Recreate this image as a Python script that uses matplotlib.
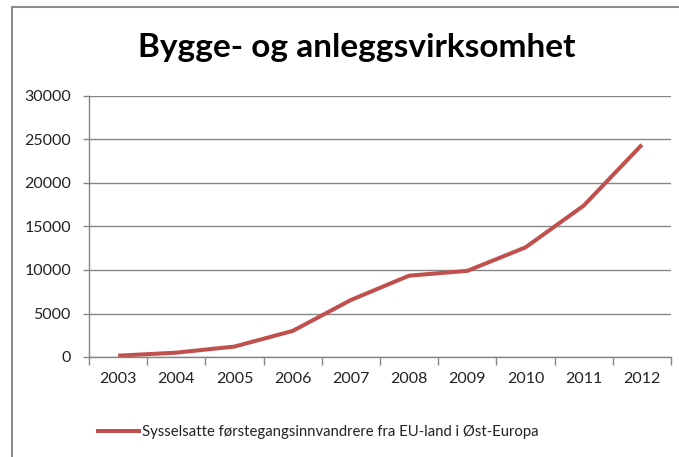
import matplotlib
matplotlib.use('Agg')
from matplotlib import pyplot as plt
from matplotlib.lines import Line2D
import numpy as np

years = ['2003', '2004', '2005', '2006', '2007', '2008', '2009', '2010', '2011', '2012']
sysselsatte = [150, 500, 1200, 3000, 6550, 9350, 9900, 12600, 17400, 24400]
series_label = 'Sysselsatte førstegangsinnvandrere fra EU-land i Øst-Europa'
title = 'Bygge- og anleggsvirksomhet'

plt.rcParams['font.family'] = ['Lato', 'DejaVu Sans']

fig = plt.figure(figsize=(6.79, 4.57), dpi=100)
ax = fig.add_axes([89/679, 1 - 357/457, (671 - 89)/679, (357 - 96)/457])

x = np.arange(len(years))
line, = ax.plot(x, sysselsatte, color='#C0504D', lw=2.9, solid_joinstyle='round',
                solid_capstyle='butt')

ax.set_xlim(-0.5, len(years) - 0.5)
ax.set_ylim(0, 30000)
ax.set_yticks(np.arange(0, 30001, 5000))
ax.set_xticks(np.arange(-0.5, len(years)), labels=[])
ax.set_xticks(x, labels=years, minor=True)
ax.tick_params(axis='x', which='major', length=6, color='#868686', width=1)
ax.tick_params(axis='x', which='minor', length=0, pad=11, labelsize=11.5, labelcolor='#222222')
ax.tick_params(axis='y', length=4, color='#868686', width=1, pad=9, labelsize=11.5,
               labelcolor='#222222')
ax.grid(axis='y', color='#868686', lw=1)
ax.set_axisbelow(True)
for s in ['top', 'right']:
    ax.spines[s].set_visible(False)
for s in ['left', 'bottom']:
    ax.spines[s].set_color('#868686')
    ax.spines[s].set_linewidth(1)

fig.text(357/679, 1 - 48/457, title, ha='center', va='center', fontsize=24,
         fontweight='bold', color='black')

# legend
fig.legend([Line2D([], [], color='#C0504D', lw=2.9)], [series_label],
           loc='center', bbox_to_anchor=(318/679, 1 - 432/457), frameon=False,
           fontsize=10.7, handlelength=2.8, handletextpad=0.15, labelcolor='#222222')

# chart area border (top and left visible)
fig.add_artist(Line2D([12/679, 12/679], [0, 1 - 7/457], color='#8c8c8c', lw=1.5,
                      transform=fig.transFigure))
fig.add_artist(Line2D([12/679, 1], [1 - 7/457, 1 - 7/457], color='#8c8c8c', lw=1.5,
                      transform=fig.transFigure))

fig.savefig('out.png', dpi=100)
